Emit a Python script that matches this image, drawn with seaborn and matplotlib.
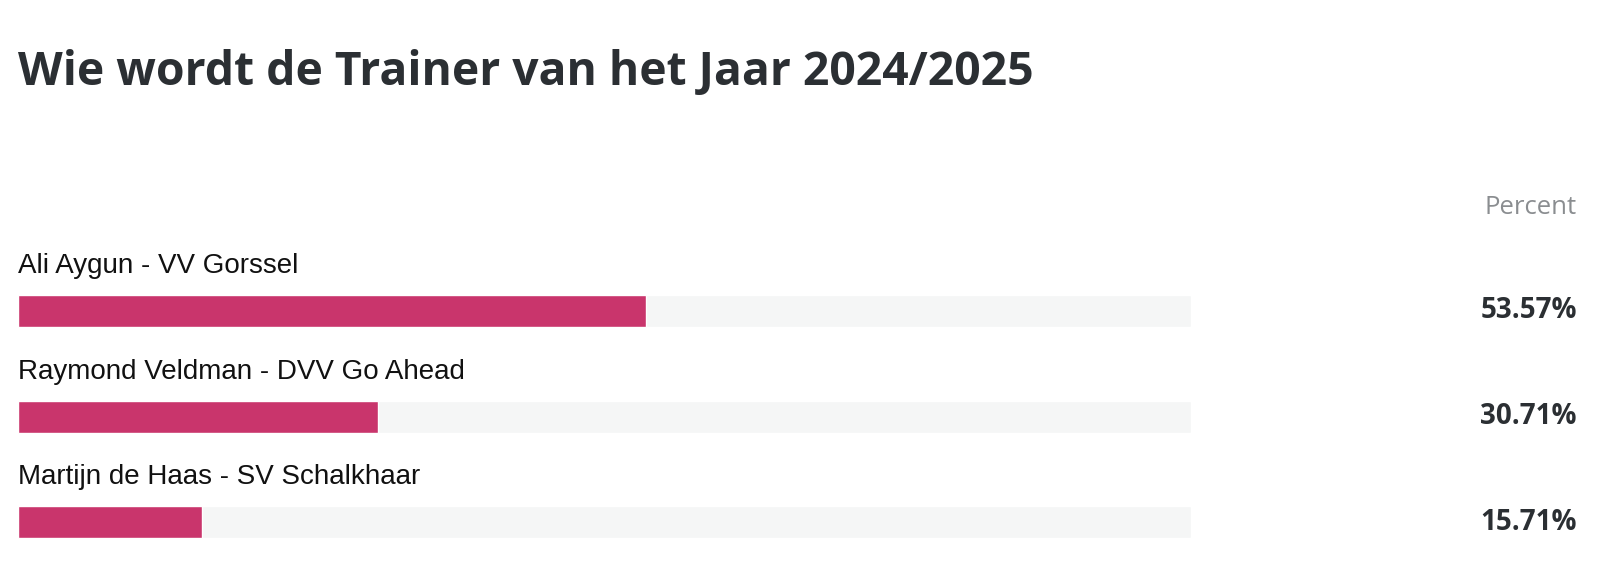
import matplotlib
matplotlib.use("Agg")
import matplotlib.pyplot as plt
import matplotlib.transforms as mtransforms
import seaborn as sns
import pandas as pd

# data
kandidaten = ["Ali Aygun - VV Gorssel",
              "Raymond Veldman - DVV Go Ahead",
              "Martijn de Haas - SV Schalkhaar"]
percentages = [53.57, 30.71, 15.71]
totaal = [100, 100, 100]

roze = "#c9356c"
spoor = "#f5f6f6"
donker = "#2b2f33"

sns.set_style("white")
plt.rcParams['font.family'] = ['Open Sans', 'DejaVu Sans']

df = pd.DataFrame({"kandidaat": kandidaten, "percent": percentages, "totaal": totaal})

W, H = 1624, 574
fig = plt.figure(figsize=(W / 100, H / 100), dpi=100)

# assen: y=-0.5 op 258px van boven, y=2.45 op 570px
left = 17.6 / W
right = 1191 / W
top_px, bot_px = 258, 570
ax = fig.add_axes([left, (H - bot_px) / H, right - left, (bot_px - top_px) / H])

sns.barplot(data=df, x="totaal", y="kandidaat", color=spoor, orient="h",
            width=0.303, saturation=1, ax=ax)
sns.barplot(data=df, x="percent", y="kandidaat", color=roze, orient="h",
            width=0.303, saturation=1, ax=ax)

ax.set_xlim(0, 100)
ax.set_ylim(2.45, -0.5)
ax.set_axis_off()

# labels boven de balken
for i, naam in enumerate(kandidaten):
    ax.text(0, i - 0.36, naam, va="baseline", ha="left", fontsize=20,
            family=["Liberation Sans", "DejaVu Sans"], color="#111111", clip_on=False)

# percentages rechts
trans = mtransforms.blended_transform_factory(fig.transFigure, ax.transData)
for i, p in enumerate(percentages):
    ax.text(1577 / W, i, f"{p:.2f}%", va="center", ha="right", fontsize=20,
            fontweight="bold", color=donker, transform=trans, clip_on=False)

fig.text(1577 / W, (H - 208) / H, "Percent", va="center", ha="right",
         fontsize=18.5, color="#8a8d90")

fig.text(17.6 / W, (H - 85) / H, "Wie wordt de Trainer van het Jaar 2024/2025",
         va="baseline", ha="left", fontsize=33.3, fontweight="bold", color=donker)

fig.savefig("out.png", dpi=100)
